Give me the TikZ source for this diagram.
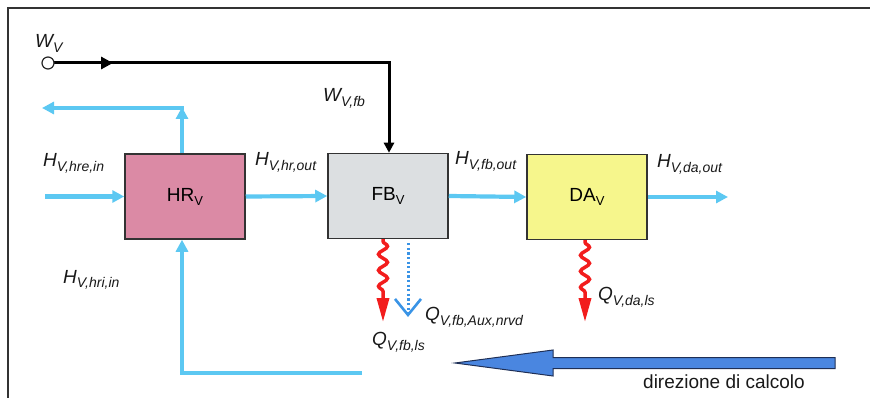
\documentclass[tikz,border=0pt]{standalone}
\usepackage{fontspec}
\setmainfont{Liberation Sans}
\usetikzlibrary{arrows.meta,decorations.pathmorphing}
\definecolor{cyanflow}{HTML}{5CC8F2}
\definecolor{hrpink}{HTML}{DB8AA5}
\definecolor{fbgray}{HTML}{DCDFE1}
\definecolor{dayellow}{HTML}{F6F68C}
\definecolor{auxblue}{HTML}{3A94E6}
\definecolor{bigblue}{HTML}{4A86E0}
\definecolor{bignavy}{HTML}{1F2F55}
\definecolor{heatred}{HTML}{F21D1D}
\definecolor{framecol}{HTML}{333333}
\newcommand\flab[2]{{\fontsize{19}{19}\selectfont\itshape #1\raisebox{-5pt}{\fontsize{14}{14}\selectfont #2}}}
\newcommand\boxlbl[1]{{\fontsize{19}{19}\selectfont #1\raisebox{-4pt}{\fontsize{13}{13}\selectfont V}}}
\tikzset{
  blockbox/.style={draw=black!80, line width=1.5pt, minimum width=120pt, minimum height=85pt, inner sep=0pt},
  cyanarr/.style={draw=cyanflow, line width=4.2pt, -{Triangle[length=12pt,width=12pt]}},
  wline/.style={draw=black, line width=3pt},
  redwave/.style={draw=heatred, line width=3.5pt, decorate,
    decoration={snake, amplitude=4.5pt, segment length=16pt, pre length=2pt, post length=24pt},
    -{Triangle[length=24pt,width=12pt]}},
  auxarr/.style={draw=auxblue, line width=3pt, dash pattern=on 2.2pt off 2.4pt,
    -{Straight Barb[length=16pt,width=26pt,line width=2.6pt]}},
  lbl/.style={anchor=base west, inner sep=0pt, text=black!90},
}
\begin{document}
\begin{tikzpicture}[x=1pt,y=-1pt]
\useasboundingbox (0,0) rectangle (870,398);
\draw[framecol, line width=1.2pt] (8,398) -- (8,8) -- (870,8);

% blocks
\node[blockbox, fill=hrpink] (HR) at (185,196.5) {\boxlbl{HR}};
\node[blockbox, fill=fbgray] (FB) at (388,196) {\boxlbl{FB}};
\node[blockbox, fill=dayellow] (DA) at (587,197) {\boxlbl{DA}};

% coordinates
\coordinate (hrein) at (45,196.5);
\coordinate (hrup) at (182,107);
\coordinate (hrleft) at (42,108);
\coordinate (daout) at (728,197);
\coordinate (ret) at (362,373);
\coordinate (wcorner) at (389,63);
\coordinate (wmid) at (113,63);
\coordinate (fbq) at (383,322);
\coordinate (daq) at (585,322);
\coordinate (aux) at (408,317);

% cyan flows
\draw[cyanarr] (hrein) -- (HR.west);
\draw[cyanarr] (HR.north -| hrup) -- (hrup);
\draw[cyanarr] ([xshift=2.1pt]hrup |- hrleft) -- (hrleft);
\draw[cyanarr] (HR.east) -- (FB.west);
\draw[cyanarr] (FB.east) -- (DA.west);
\draw[cyanarr] (DA.east) -- (daout);
\draw[cyanarr] (ret) -- (ret -| hrup) -- (HR.south -| hrup);

% W line
\draw[wline, -{Triangle[length=10pt,width=10pt]}] (48,63) -- (wcorner) -- (FB.north -| wcorner);
\draw[wline, -{Triangle[length=12pt,width=12pt]}] (48,63) -- (wmid);
\node[circle, draw=black!85, fill=white, line width=1.2pt, minimum size=12pt, inner sep=0pt] (wv) at (48,63) {};

% heat losses
\draw[redwave] (FB.south -| fbq) -- (fbq);
\draw[redwave] (DA.south -| daq) -- (daq);
\draw[auxarr] ([yshift=-4pt]FB.south -| aux) -- (aux);

% big direction arrow
\draw[fill=bigblue, draw=bignavy, line width=1pt, line join=miter]
  (835,357.5) -- (553,357.5) -- (553,350) -- (455,363) -- (553,376) -- (553,368.5) -- (835,368.5) -- cycle;

% labels
\node[lbl] (lwv) at (35,48) {\flab{W}{V}};
\node[lbl] (lwvfb) at (323,102) {\flab{W}{V,fb}};
\node[lbl] (lhre) at (43,167) {\flab{H}{V,hre,in}};
\node[lbl] (lhrout) at (255,166) {\flab{H}{V,hr,out}};
\node[lbl] (lfbout) at (455,165) {\flab{H}{V,fb,out}};
\node[lbl] (ldaout) at (657,168) {\flab{H}{V,da,out}};
\node[lbl] (lhri) at (63,283) {\flab{H}{V,hri,in}};
\node[lbl] (lqfb) at (372,345) {\flab{Q}{V,fb,ls}};
\node[lbl] (lqaux) at (425,320) {\flab{Q}{V,fb,Aux,nrvd}};
\node[lbl] (lqda) at (598,300) {\flab{Q}{V,da,ls}};
\node[anchor=base, inner sep=0pt, text=black!90] (ldir) at (724,388) {\fontsize{19}{19}\selectfont direzione di calcolo};
\end{tikzpicture}
\end{document}
